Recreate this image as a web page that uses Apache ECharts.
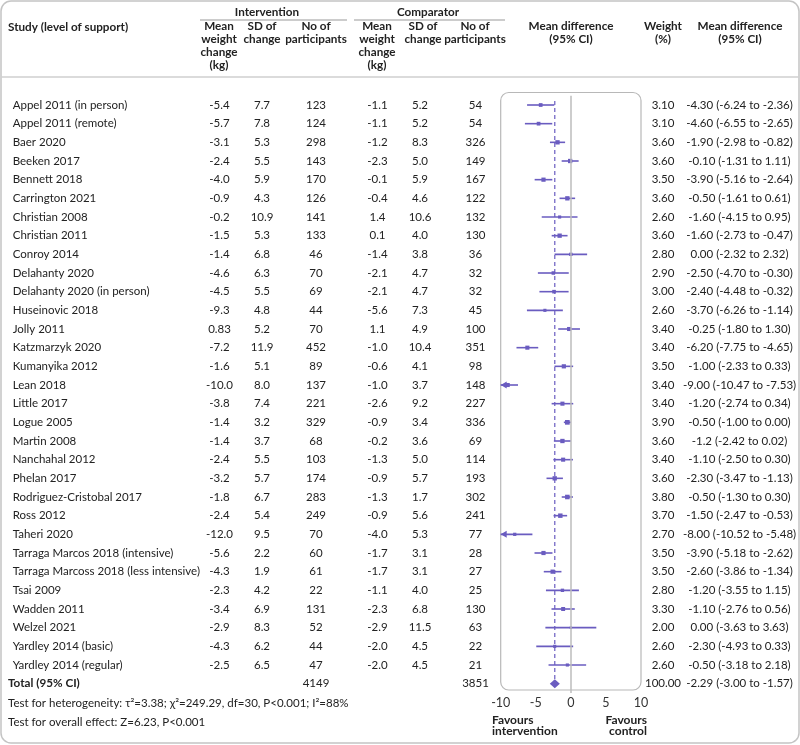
<!DOCTYPE html>
<html>
<head>
<meta charset="utf-8">
<script src="https://cdn.jsdelivr.net/npm/echarts@6/dist/echarts.min.js"></script>
<style>
html,body{margin:0;padding:0;background:#fff;}
#chart{width:800px;height:745px;}
</style>
</head>
<body>
<div id="chart"></div>
<script>
const studies = ['Appel 2011 (in person)','Appel 2011 (remote)','Baer 2020','Beeken 2017','Bennett 2018','Carrington 2021','Christian 2008','Christian 2011','Conroy 2014','Delahanty 2020','Delahanty 2020 (in person)','Huseinovic 2018','Jolly 2011','Katzmarzyk 2020','Kumanyika 2012','Lean 2018','Little 2017','Logue 2005','Martin 2008','Nanchahal 2012','Phelan 2017','Rodriguez-Cristobal 2017','Ross 2012','Taheri 2020','Tarraga Marcos 2018 (intensive)','Tarraga Marcoss 2018 (less intensive)','Tsai 2009','Wadden 2011','Welzel 2021','Yardley 2014 (basic)','Yardley 2014 (regular)'];
const intMean = ['-5.4','-5.7','-3.1','-2.4','-4.0','-0.9','-0.2','-1.5','-1.4','-4.6','-4.5','-9.3','0.83','-7.2','-1.6','-10.0','-3.8','-1.4','-1.4','-2.4','-3.2','-1.8','-2.4','-12.0','-5.6','-4.3','-2.3','-3.4','-2.9','-4.3','-2.5'];
const intSD = ['7.7','7.8','5.3','5.5','5.9','4.3','10.9','5.3','6.8','6.3','5.5','4.8','5.2','11.9','5.1','8.0','7.4','3.2','3.7','5.5','5.7','6.7','5.4','9.5','2.2','1.9','4.2','6.9','8.3','6.2','6.5'];
const intN = [123,124,298,143,170,126,141,133,46,70,69,44,70,452,89,137,221,329,68,103,174,283,249,70,60,61,22,131,52,44,47];
const compMean = ['-1.1','-1.1','-1.2','-2.3','-0.1','-0.4','1.4','0.1','-1.4','-2.1','-2.1','-5.6','1.1','-1.0','-0.6','-1.0','-2.6','-0.9','-0.2','-1.3','-0.9','-1.3','-0.9','-4.0','-1.7','-1.7','-1.1','-2.3','-2.9','-2.0','-2.0'];
const compSD = ['5.2','5.2','8.3','5.0','5.9','4.6','10.6','4.0','3.8','4.7','4.7','7.3','4.9','10.4','4.1','3.7','9.2','3.4','3.6','5.0','5.7','1.7','5.6','5.3','3.1','3.1','4.0','6.8','11.5','4.5','4.5'];
const compN = [54,54,326,149,167,122,132,130,36,32,32,45,100,351,98,148,227,336,69,114,193,302,241,77,28,27,25,130,63,22,21];
const weights = ['3.10','3.10','3.60','3.60','3.50','3.60','2.60','3.60','2.80','2.90','3.00','2.60','3.40','3.40','3.50','3.40','3.40','3.90','3.60','3.40','3.60','3.80','3.70','2.70','3.50','3.50','2.80','3.30','2.00','2.60','2.60'];
const md = ['-4.30','-4.60','-1.90','-0.10','-3.90','-0.50','-1.60','-1.60','0.00','-2.50','-2.40','-3.70','-0.25','-6.20','-1.00','-9.00','-1.20','-0.50','-1.2','-1.10','-2.30','-0.50','-1.50','-8.00','-3.90','-2.60','-1.20','-1.10','0.00','-2.30','-0.50'];
const ciLo = ['-6.24','-6.55','-2.98','-1.31','-5.16','-1.61','-4.15','-2.73','-2.32','-4.70','-4.48','-6.26','-1.80','-7.75','-2.33','-10.47','-2.74','-1.00','-2.42','-2.50','-3.47','-1.30','-2.47','-10.52','-5.18','-3.86','-3.55','-2.76','-3.63','-4.93','-3.18'];
const ciHi = ['-2.36','-2.65','-0.82','1.11','-2.64','0.61','0.95','-0.47','2.32','-0.30','-0.32','-1.14','1.30','-4.65','0.33','-7.53','0.34','0.00','0.02','0.30','-1.13','0.30','-0.53','-5.48','-2.62','-1.34','1.15','0.56','3.63','0.33','2.18'];
const totalLabel = 'Total (95% CI)';
const totalIntN = 4149, totalCompN = 3851, totalWeight = '100.00';
const pooled = ['-2.29','-3.00','-1.57'];
const xTicks = [-10, 10, 5];
const heteroText = 'Test for heterogeneity: τ²=3.38; χ²=249.29, df=30, P<0.001; I²=88%';
const overallText = 'Test for overall effect: Z=6.23, P<0.001';

const PURPLE = '#6a5cc0';
const FONT = 'Lato, "Open Sans", sans-serif';
const FS = 11.5;
const HFS = 11.7;
const TXT = '#222';

const nRows = studies.length + 1;
const rowIds = Array.from({length: nRows}, (_, i) => 'r' + i);

const gridLeft = 500.7, gridRight = 641, gridTop = 95.67, gridBottom = 693;

const colText = (arr, total) => i => (i < studies.length ? String(arr[i]) : (total === undefined ? '' : String(total)));

function yAx(pos, center, getter, opts) {
  const offset = pos === 'left' ? gridLeft - center : center - gridRight;
  return Object.assign({
    type: 'category', data: rowIds, inverse: true, position: pos, offset: offset,
    axisLine: {show: false}, axisTick: {show: false}, splitLine: {show: false},
    axisLabel: {interval: 0, margin: 0, align: 'center', fontFamily: FONT, fontSize: FS, color: TXT,
      formatter: (v, i) => getter(i)}
  }, opts || {});
}

const yAxes = [
  yAx('left', 12.7, i => i < studies.length ? studies[i] : ''),
  yAx('left', 8, i => i < studies.length ? '' : totalLabel),
  yAx('left', 219.5, colText(intMean)),
  yAx('left', 262, colText(intSD)),
  yAx('left', 316, colText(intN, totalIntN)),
  yAx('left', 377.5, colText(compMean)),
  yAx('left', 420, colText(compSD)),
  yAx('left', 475.5, colText(compN, totalCompN)),
  yAx('right', 663, colText(weights, totalWeight)),
  yAx('right', 739.5, i => i < studies.length ? `${md[i]} (${ciLo[i]} to ${ciHi[i]})` : `${pooled[0]} (${pooled[1]} to ${pooled[2]})`)
];
yAxes[0].axisLabel.align = 'left';
yAxes[1].axisLabel.align = 'left';
yAxes[1].axisLabel.fontWeight = 'bold';
yAxes[1].axisLabel.fontSize = HFS;

const ciData = studies.map((s, i) => [i, parseFloat(md[i]), parseFloat(ciLo[i]), parseFloat(ciHi[i]), parseFloat(weights[i])]);

function renderCI(params, api) {
  const y = api.value(0), m = api.value(1), l = api.value(2), h = api.value(3), w = api.value(4);
  const xmin = xTicks[0], xmax = xTicks[1];
  const p1 = api.coord([Math.max(l, xmin), y]);
  const p2 = api.coord([Math.min(h, xmax), y]);
  const pm = api.coord([m, y]);
  const s = w * 1.2;
  const children = [
    {type: 'line', shape: {x1: p1[0], y1: p1[1], x2: p2[0], y2: p2[1]}, style: {stroke: PURPLE, lineWidth: 1.6}},
    {type: 'rect', shape: {x: pm[0] - s / 2, y: pm[1] - s / 2, width: s, height: s}, style: {fill: PURPLE}}
  ];
  if (l < xmin) {
    children.push({type: 'polygon', shape: {points: [[p1[0], p1[1]], [p1[0] + 6, p1[1] - 3.5], [p1[0] + 6, p1[1] + 3.5]]}, style: {fill: PURPLE}});
  }
  if (h > xmax) {
    children.push({type: 'polygon', shape: {points: [[p2[0], p2[1]], [p2[0] - 6, p2[1] - 3.5], [p2[0] - 6, p2[1] + 3.5]]}, style: {fill: PURPLE}});
  }
  return {type: 'group', children};
}

function renderDiamond(params, api) {
  const y = api.value(0), m = api.value(1), l = api.value(2), h = api.value(3);
  const pl = api.coord([l, y]), pr = api.coord([h, y]), pm = api.coord([m, y]);
  return {type: 'polygon', shape: {points: [[pl[0], pl[1]], [pm[0], pm[1] - 4.5], [pr[0], pr[1]], [pm[0], pm[1] + 4.5]]}, style: {fill: PURPLE}};
}

function renderPooledLine(params, api) {
  const m = api.value(0);
  const a = api.coord([m, 0]), b = api.coord([m, studies.length]);
  return {type: 'line', shape: {x1: a[0], y1: a[1] - 4, x2: b[0], y2: b[1]}, style: {stroke: PURPLE, lineWidth: 1.2, lineDash: [4, 3]}};
}

const option = {
  animation: false,
  backgroundColor: '#fff',
  grid: {left: gridLeft, right: 800 - gridRight, top: gridTop, bottom: 745 - gridBottom, containLabel: false},
  xAxis: {
    type: 'value', min: xTicks[0], max: xTicks[1], interval: xTicks[2],
    axisLine: {show: false}, axisTick: {show: false}, splitLine: {show: false},
    axisLabel: {margin: 3, fontFamily: FONT, fontSize: 12.5, color: '#333'}
  },
  yAxis: yAxes,
  series: [
    {
      type: 'custom', renderItem: renderPooledLine, data: [[parseFloat(pooled[0])]],
      encode: {x: 0}, yAxisIndex: 0, z: 3, silent: true
    },
    {
      type: 'custom', renderItem: renderCI, data: ciData,
      encode: {x: [1, 2, 3], y: 0}, yAxisIndex: 0, z: 4, silent: true,
      markLine: {
        silent: true, symbol: 'none', label: {show: false},
        lineStyle: {color: '#bdbdbd', width: 1.5, type: 'solid'},
        data: [{xAxis: 0}]
      }
    },
    {
      type: 'custom', renderItem: renderDiamond,
      data: [[studies.length, parseFloat(pooled[0]), parseFloat(pooled[1]), parseFloat(pooled[2])]],
      encode: {x: [1, 2, 3], y: 0}, yAxisIndex: 0, z: 4, silent: true
    }
  ],
  graphic: [
    {type: 'rect', shape: {x: 1, y: 1, width: 798, height: 742, r: 10}, style: {fill: 'none', stroke: '#c4c4c4', lineWidth: 1.5}, z: -10},
    {type: 'line', shape: {x1: 1, y1: 77, x2: 799, y2: 77}, style: {stroke: '#cfcfcf', lineWidth: 1.5}},
    {type: 'rect', shape: {x: gridLeft, y: 92.5, width: gridRight - gridLeft, height: 597.5, r: 8}, style: {fill: 'none', stroke: '#b8b8b8', lineWidth: 1.2}, z: -5},
    {type: 'text', x: 8, y: 27, style: {text: 'Study (level of support)', font: `bold ${HFS}px ${FONT}`, fill: TXT, textVerticalAlign: 'middle'}},
    {type: 'text', x: 267, y: 12, style: {text: 'Intervention', font: `bold ${HFS}px ${FONT}`, fill: TXT, textAlign: 'center', textVerticalAlign: 'middle'}},
    {type: 'line', shape: {x1: 200, y1: 20, x2: 347, y2: 20}, style: {stroke: '#999', lineWidth: 1.2}},
    {type: 'text', x: 428, y: 12, style: {text: 'Comparator', font: `bold ${HFS}px ${FONT}`, fill: TXT, textAlign: 'center', textVerticalAlign: 'middle'}},
    {type: 'line', shape: {x1: 354, y1: 20, x2: 505, y2: 20}, style: {stroke: '#999', lineWidth: 1.2}},
    ...[[219, 'Mean\nweight\nchange\n(kg)'], [262, 'SD of\nchange'], [316, 'No of\nparticipants'],
        [377, 'Mean\nweight\nchange\n(kg)'], [423, 'SD of\nchange'], [475, 'No of\nparticipants'],
        [571, 'Mean difference\n(95% CI)'], [663, 'Weight\n(%)'], [740, 'Mean difference\n(95% CI)']].map(([x, t]) => (
      {type: 'text', x: x, y: 20.3, style: {text: t, font: `bold ${HFS}px ${FONT}`, fill: TXT, textAlign: 'center', textVerticalAlign: 'top', lineHeight: 12.7}}
    )),
    {type: 'text', x: 8, y: 703, style: {text: heteroText, font: `${FS}px ${FONT}`, fill: TXT, textVerticalAlign: 'middle'}},
    {type: 'text', x: 8, y: 722, style: {text: overallText, font: `${FS}px ${FONT}`, fill: TXT, textVerticalAlign: 'middle'}},
    {type: 'text', x: 492, y: 715, style: {text: 'Favours\nintervention', font: `bold 12px ${FONT}`, fill: TXT, textAlign: 'left', textVerticalAlign: 'top', lineHeight: 10.5}},
    {type: 'text', x: 647, y: 715, style: {text: 'Favours\ncontrol', font: `bold 12px ${FONT}`, fill: TXT, textAlign: 'right', textVerticalAlign: 'top', lineHeight: 10.5}}
  ]
};

const chart = echarts.init(document.getElementById('chart'), null, {renderer: 'canvas'});
chart.setOption(option);
</script>
</body>
</html>
